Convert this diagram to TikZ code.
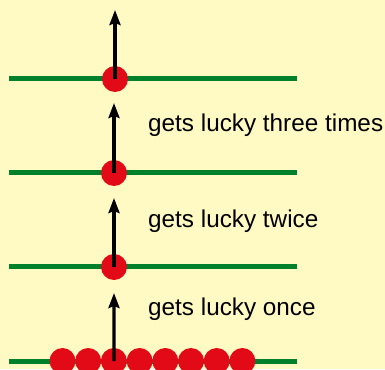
\documentclass[tikz,border=0pt]{standalone}
\usepackage{fontspec}
\setmainfont{Liberation Sans}
\usepackage{xcolor}
\usetikzlibrary{arrows.meta}

\definecolor{paper}{RGB}{255,250,196}
\definecolor{floorgreen}{RGB}{0,128,43}
\definecolor{ballred}{RGB}{227,10,23}

\begin{document}
\begin{tikzpicture}[
    x=1pt, y=-1pt,
    level/.style={draw=floorgreen, line width=5pt},
    ball/.style={circle, fill=ballred, minimum size=26pt, inner sep=0pt},
    jump/.style={-{Stealth[length=15pt, width=11pt, inset=2pt]}, line width=3.2pt},
    note/.style={anchor=base west, inner sep=0pt,
                 font=\fontsize{24.3}{29}\selectfont},
]
    \fill[paper] (0,0) rectangle (385,369);
    \useasboundingbox (0,0) rectangle (385,369);

    % the four levels
    \foreach \y in {78, 172, 266, 361}
        \draw[level] (9,\y) -- (297,\y);

    \node[ball] (b1) at (115,79) {};
    \node[ball] (b2) at (114,173) {};
    \node[ball] (b3) at (114,267) {};
    \foreach \i in {0,...,7}
        \node[ball] (b4\i) at (62.5+25.7*\i,361) {};

    \coordinate (t1) at (115,10);
    \coordinate (t2) at (114,103);
    \coordinate (t3) at (114,198);
    \coordinate (t4) at (114,293);

    \foreach \a/\b in {b1/t1, b2/t2, b3/t3, b42/t4}
        \draw[jump] (\a.center) -- (\b);

    \node[note] (n1) at (148,131) {gets lucky three times};
    \node[note] (n2) at (148,227) {gets lucky twice};
    \node[note] (n3) at (148,315) {gets lucky once};
\end{tikzpicture}
\end{document}
